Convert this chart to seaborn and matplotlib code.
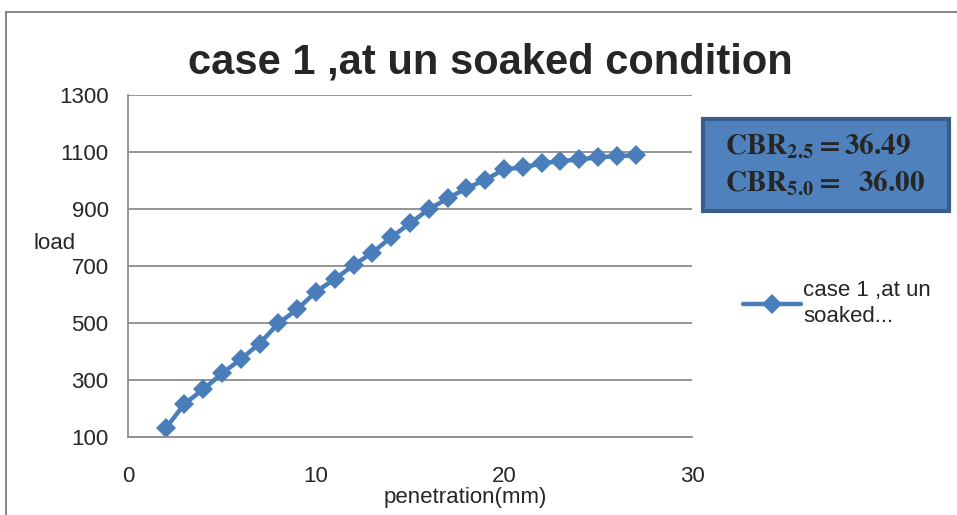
import matplotlib
matplotlib.use("Agg")
import matplotlib.pyplot as plt
import seaborn as sns
from matplotlib.patches import Rectangle

penetration = list(range(2, 28))
load = [130, 216, 267, 323, 373, 428, 499, 548, 610, 654, 703, 747, 801, 850,
        899, 937, 973, 1002, 1039, 1046, 1060, 1068, 1074, 1081, 1086, 1088]
series_label = "case 1 ,at un\nsoaked..."
title = "case 1 ,at un soaked condition"
cbr_lines = [r"$\mathbf{CBR_{2.5}= 36.49}$", r"$\mathbf{CBR_{5.0}{=}\ \ 36.00}$"]
x_ticks = [0, 10, 20, 30]
y_ticks = [100, 300, 500, 700, 900, 1100, 1300]

sns.set_style("white")
plt.rcParams['font.family'] = ['Liberation Sans Narrow', 'Liberation Sans', 'DejaVu Sans']
plt.rcParams['mathtext.fontset'] = 'stix'

fig = plt.figure(figsize=(9.57, 5.15), dpi=100)
ax = fig.add_axes([0.1338, 0.1515, 0.7231 - 0.1338, 0.8155 - 0.1515])

blue = '#4A7EBB'
sns.lineplot(x=penetration, y=load, ax=ax, color=blue, linewidth=3.2,
             marker='D', markersize=10, markeredgewidth=0, label=series_label)

ax.set_xlim(0, 30)
ax.set_ylim(100, 1300)
ax.set_xticks(x_ticks)
ax.set_yticks(y_ticks)
ax.yaxis.grid(True, color='#8c8c8c', linewidth=1.3)
ax.xaxis.grid(False)
for s in ['top', 'right']:
    ax.spines[s].set_visible(False)
for s in ['left', 'bottom']:
    ax.spines[s].set_color('#8c8c8c')
    ax.spines[s].set_linewidth(1.3)
ax.tick_params(axis='both', direction='out', length=6, width=1.3, color='#8c8c8c',
               labelsize=16, pad=8)
ax.tick_params(axis='x', pad=15)

fig.text(490 / 957, 1 - 62 / 515, title, fontsize=30, fontweight='bold',
         ha='center', va='center')
ax.set_xlabel("penetration(mm)", fontsize=16, va='center')
ax.xaxis.set_label_coords(0.598, -0.178)
ax.set_ylabel("load", fontsize=16, rotation=0, va='center', ha='center')
ax.yaxis.set_label_coords(-0.131, 0.567)

leg = ax.legend(loc='upper left', bbox_to_anchor=(1.075, 0.485), frameon=False,
                fontsize=16, handlelength=2.6, handletextpad=0.1, borderaxespad=0,
                labelspacing=0.3)
for t in leg.get_texts():
    t.set_linespacing(1.3)

# CBR box
fig.patches.append(Rectangle((703 / 957, 1 - 211 / 515), 246 / 957, 92 / 515,
                             transform=fig.transFigure, facecolor='#4F81BD',
                             edgecolor='#385D8A', linewidth=3))
fig.text(725 / 957, 1 - 146 / 515, cbr_lines[0], fontsize=21, va='center', ha='left')
fig.text(725 / 957, 1 - 183 / 515, cbr_lines[1], fontsize=21, va='center', ha='left')

# outer chart frame
fig.patches.append(Rectangle((6 / 957, -0.1), 1.2, (515 - 12) / 515 + 0.1,
                             transform=fig.transFigure, fill=False,
                             edgecolor='#8c8c8c', linewidth=1.5))

fig.savefig("out.png", dpi=100)
